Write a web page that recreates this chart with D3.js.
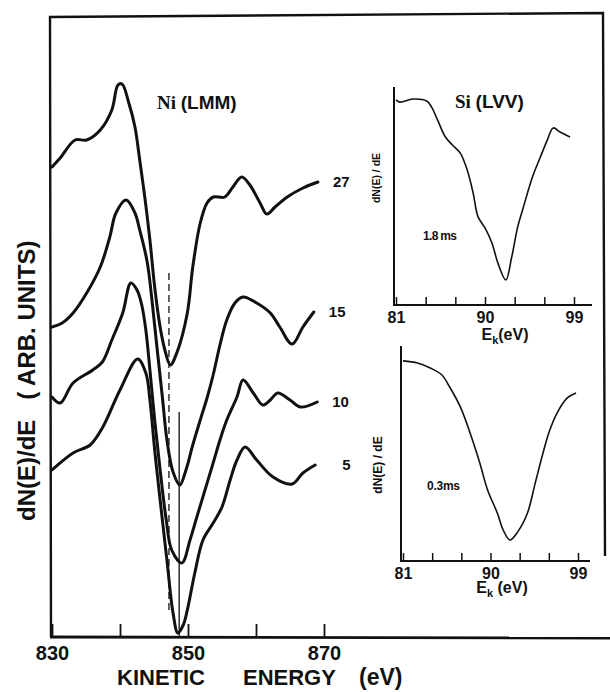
<!DOCTYPE html>
<html>
<head>
<meta charset="utf-8">
<script src="https://cdn.jsdelivr.net/npm/d3@7"></script>
<style>
  html, body { margin: 0; padding: 0; background: #fff; }
  svg { display: block; }
  text { font-family: "Liberation Sans", Arial, sans-serif; font-weight: bold; fill: #111; }
</style>
</head>
<body>
<script>
// Ni (LMM) derivative spectra, [kinetic energy (eV), dN(E)/dE (arb.)], labelled by time
const ni27 = [[830.0,47.0],[831.2,47.9],[833.4,49.7],[835.1,49.7],[837.1,50.7],[838.8,52.7],[839.7,55.2],[840.3,55.3],[841.3,53.4],[842.2,51.0],[842.9,47.7],[843.7,43.7],[844.4,39.7],[845.1,35.0],[845.9,31.0],[846.6,28.7],[847.4,27.2],[848.4,28.5],[849.9,32.4],[850.7,37.0],[851.8,41.4],[852.8,43.4],[853.7,44.0],[855.4,44.0],[856.6,45.0],[857.9,46.0],[859.1,45.2],[860.6,43.4],[861.6,42.3],[862.8,43.0],[864.6,44.0],[866.9,44.9],[869.1,45.5]];
const ni15 = [[830.0,31.0],[831.5,31.4],[833.1,32.4],[835.1,34.4],[837.1,37.0],[838.5,40.0],[839.4,42.4],[840.9,43.7],[842.2,42.4],[842.9,40.7],[844.0,37.5],[844.7,33.7],[845.4,29.2],[846.2,24.2],[846.9,19.7],[847.8,16.5],[848.8,15.2],[849.7,16.7],[850.7,19.2],[851.8,21.7],[852.8,23.9],[853.7,26.2],[854.7,29.2],[855.7,31.7],[856.9,33.4],[858.1,34.0],[860.1,33.4],[862.1,32.4],[863.5,31.0],[865.3,29.3],[866.9,31.0],[868.5,32.5]];
const ni10 = [[830.0,24.0],[831.2,23.4],[833.1,25.4],[836.0,26.7],[837.4,27.5],[838.8,29.7],[840.4,32.4],[841.6,35.4],[842.5,34.7],[843.2,33.2],[843.8,30.7],[844.4,26.7],[845.1,21.7],[845.9,16.7],[846.8,11.7],[847.6,8.7],[849.1,7.4],[850.3,9.7],[851.3,12.0],[852.5,14.7],[853.7,17.4],[854.7,19.7],[855.7,21.7],[857.2,24.0],[858.1,25.7],[859.6,24.4],[861.0,23.2],[862.1,23.7],[863.2,24.4],[865.0,23.7],[866.5,23.0],[869.0,23.5]];
const ni5 = [[830.0,16.7],[833.1,18.4],[835.6,19.2],[837.4,20.9],[840.0,24.7],[842.6,27.8],[843.8,26.4],[844.4,23.7],[845.1,18.7],[845.9,13.7],[846.9,7.7],[847.8,2.4],[848.5,0.4],[849.3,1.2],[849.9,2.7],[851.0,6.4],[852.2,9.7],[853.7,11.4],[855.0,13.0],[856.2,15.7],[857.2,17.7],[858.4,19.0],[860.1,17.7],[862.5,16.0],[865.3,15.3],[866.9,16.4],[868.7,17.2]];
const niSeries = [
  { label: "27", data: ni27 },
  { label: "15", data: ni15 },
  { label: "10", data: ni10 },
  { label: "5",  data: ni5 }
];
// Reference markers: dashed (shift of the minimum) and solid
const dashedMarker = [[847.2, 36.4], [847.2, 2.5]];
const solidMarker = [[848.7, 22.5], [848.7, 0]];

const energyTicks = [830, 840, 850, 860, 870];
const energyLabels = [830, 850, 870];

// Si (LVV) derivative spectra, [Ek (eV), dN(E)/dE (arb.)]
const si18 = [[81.0,94.5],[81.4,93.5],[82.7,94.9],[84.1,94.0],[84.6,91.2],[85.2,85.3],[86.0,77.4],[86.7,73.7],[87.5,70.0],[88.2,62.2],[88.8,51.6],[89.3,40.6],[90.0,35.5],[90.7,28.6],[91.3,19.4],[92.1,11.5],[92.7,22.1],[93.3,35.9],[93.8,43.8],[94.8,59.0],[95.6,68.2],[96.3,76.0],[96.9,81.6],[97.6,79.7],[98.6,77.4]];
const si03 = [[81.0,93.5],[82.5,92.5],[83.8,90.2],[85.0,86.9],[85.8,81.3],[86.9,72.0],[87.9,59.8],[88.9,45.8],[89.7,33.2],[90.7,22.4],[91.3,14.5],[92.0,9.8],[92.8,13.6],[93.8,22.4],[94.6,36.4],[95.4,50.5],[96.1,61.2],[96.9,69.6],[97.9,76.2],[98.8,78.5]];
const siTicks = [81, 84, 87, 90, 93, 96, 99];
const siLabels = [81, 90, 99];

const W = 610, H = 692;
const svg = d3.select("body").append("svg").attr("width", W).attr("height", H);

// ---------- main panel ----------
const x = d3.scaleLinear().domain([830, 870]).range([52, 324]);
const y = d3.scaleLinear().domain([0, 62]).range([637, 17]);

// frame
svg.append("path")
  .attr("d", "M51,637 L50,17 L603,13 L605,556")
  .attr("fill", "none").attr("stroke", "#111").attr("stroke-width", 2.4);
svg.append("line").attr("x1", 50).attr("x2", 610).attr("y1", 637).attr("y2", 638)
  .attr("stroke", "#111").attr("stroke-width", 2.8);

const xAxis = d3.axisBottom(x)
  .tickValues(energyTicks)
  .tickSizeInner(-13).tickSizeOuter(0).tickPadding(9)
  .tickFormat(d => energyLabels.includes(d) ? d : "");
const gx = svg.append("g").attr("transform", `translate(0,${y(0)})`).call(xAxis);
gx.select(".domain").remove();
gx.selectAll(".tick line").attr("stroke", "#111").attr("stroke-width", 1.8);
gx.selectAll(".tick text").attr("font-size", 20).attr("fill", "#111")
  .attr("font-family", "Liberation Sans, Arial, sans-serif").attr("font-weight", "bold");

const line = d3.line().x(d => x(d[0])).y(d => y(d[1])).curve(d3.curveCatmullRom.alpha(0.5));

svg.append("g").selectAll("path").data(niSeries).join("path")
  .attr("d", d => line(d.data))
  .attr("fill", "none").attr("stroke", "#111").attr("stroke-width", 3)
  .attr("stroke-linejoin", "round").attr("stroke-linecap", "round");

const straight = d3.line().x(d => x(d[0])).y(d => y(d[1]));
svg.append("path").attr("d", straight(dashedMarker))
  .attr("stroke", "#111").attr("stroke-width", 1.3).attr("stroke-dasharray", "7,4").attr("fill", "none");
svg.append("path").attr("d", straight(solidMarker))
  .attr("stroke", "#111").attr("stroke-width", 1.3).attr("fill", "none");

// series labels at the right end of each curve
svg.append("g").selectAll("text").data(niSeries).join("text")
  .attr("x", d => x(d.data[d.data.length - 1][0]) + (d.label === "5" ? 27 : 15))
  .attr("y", d => y(d.data[d.data.length - 1][1]) + 5)
  .attr("font-size", 15)
  .text(d => d.label);

// panel title
const niTitle = svg.append("text").attr("x", 157).attr("y", 109).attr("font-size", 19);
niTitle.append("tspan").attr("font-family", "Liberation Serif, Times New Roman, serif").text("Ni ");
niTitle.append("tspan").text("(LMM)");

// axis titles
const xt = svg.append("g");
xt.append("text").attr("x", 117).attr("y", 685).attr("font-size", 22).text("KINETIC");
xt.append("text").attr("x", 243).attr("y", 685).attr("font-size", 22).text("ENERGY");
xt.append("text").attr("x", 359).attr("y", 685).attr("font-size", 23).text("(eV)");

svg.append("text")
  .attr("transform", "translate(35,521) rotate(-90)")
  .attr("font-size", 24)
  .style("white-space", "pre")
  .text("dN(E)/dE   ( ARB. UNITS)");

// ---------- Si insets ----------
function inset(cfg) {
  const xi = d3.scaleLinear().domain([81, 99]).range(cfg.xr);
  const yi = d3.scaleLinear().domain([0, 100]).range(cfg.yr);
  const g = svg.append("g");
  // axes
  g.append("line").attr("x1", cfg.xr[0] - 2).attr("x2", cfg.xr[0] - 2)
    .attr("y1", cfg.yr[1] - 1).attr("y2", cfg.yr[0])
    .attr("stroke", "#111").attr("stroke-width", 2);
  const ax = d3.axisBottom(xi).tickValues(siTicks)
    .tickSizeInner(-8).tickSizeOuter(0).tickPadding(7)
    .tickFormat(d => siLabels.includes(d) ? d : "");
  const gax = g.append("g").attr("transform", `translate(0,${cfg.yr[0]})`).call(ax);
  gax.select(".domain").remove();
  g.append("line").attr("x1", cfg.xr[0] - 3).attr("x2", cfg.xEnd)
    .attr("y1", cfg.yr[0]).attr("y2", cfg.yr[0])
    .attr("stroke", "#111").attr("stroke-width", 2);
  gax.selectAll(".tick line").attr("stroke", "#111").attr("stroke-width", 1.5);
  gax.selectAll(".tick text").attr("font-size", 16).attr("fill", "#111")
    .attr("font-family", "Liberation Sans, Arial, sans-serif").attr("font-weight", "bold");
  // spectrum
  const ln = d3.line().x(d => xi(d[0])).y(d => yi(d[1])).curve(d3.curveCatmullRom.alpha(0.5));
  g.append("path").attr("d", ln(cfg.data))
    .attr("fill", "none").attr("stroke", "#111").attr("stroke-width", 1.6)
    .attr("stroke-linejoin", "round");
  // labels
  const ek = g.append("text").attr("x", cfg.ekX).attr("y", cfg.ekY).attr("font-size", 16)
    .attr("text-anchor", "middle").style("white-space", "pre");
  ek.append("tspan").text("E");
  ek.append("tspan").attr("font-size", 11).attr("dy", 4).text("k");
  ek.append("tspan").attr("dy", -4).text(cfg.ekGap + "(eV)");
  g.append("text")
    .attr("transform", `translate(${cfg.ylX},${cfg.ylY}) rotate(-90)`)
    .attr("text-anchor", "middle").attr("font-size", cfg.ylSize)
    .style("white-space", "pre")
    .text("dN(E) / dE");
  g.append("text").attr("x", cfg.tX).attr("y", cfg.tY).attr("font-size", 12)
    .attr("textLength", cfg.tLen).text(cfg.time);
  return g;
}

inset({ data: si18, xr: [396, 574], yr: [305, 88], xEnd: 592,
        ekX: 505, ekY: 340, ekGap: "", ylX: 380, ylY: 178, ylSize: 10.5,
        tX: 423, tY: 240, tLen: 34, time: "1.8 ms" });
inset({ data: si03, xr: [403, 578], yr: [561, 347], xEnd: 590,
        ekX: 502, ekY: 593, ekGap: " ", ylX: 382, ylY: 465, ylSize: 12,
        tX: 427, tY: 490, tLen: 33, time: "0.3ms" });

const siTitle = svg.append("text").attr("x", 455).attr("y", 108).attr("font-size", 19);
siTitle.append("tspan").attr("font-family", "Liberation Serif, Times New Roman, serif").text("Si ");
siTitle.append("tspan").text("(LVV)");
</script>
</body>
</html>
